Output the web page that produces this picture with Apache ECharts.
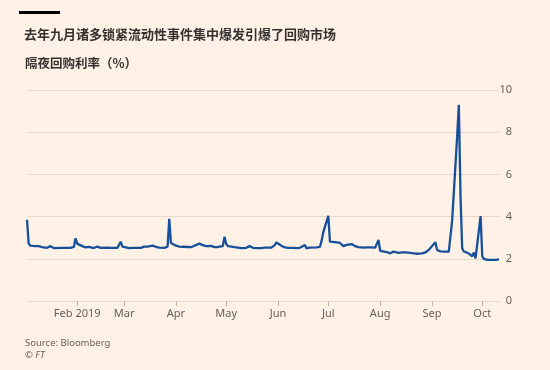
<!DOCTYPE html>
<html>
<head>
<meta charset="utf-8">
<script src="https://cdn.jsdelivr.net/npm/echarts@6/dist/echarts.min.js"></script>
<style>
html, body {margin: 0; padding: 0; background: #fff1e5;}
#chart {width: 550px; height: 370px;}
</style>
</head>
<body>
<div id="chart"></div>
<script>
// 隔夜回购利率 2019
var dates = [
    '2019-01-02','2019-01-03','2019-01-04','2019-01-07','2019-01-08','2019-01-09','2019-01-10','2019-01-11',
    '2019-01-14','2019-01-15','2019-01-16','2019-01-17','2019-01-18','2019-01-22','2019-01-23','2019-01-24',
    '2019-01-25','2019-01-28','2019-01-29','2019-01-30','2019-01-31','2019-02-01','2019-02-04','2019-02-05',
    '2019-02-06','2019-02-07','2019-02-08','2019-02-11','2019-02-12','2019-02-13','2019-02-14','2019-02-15',
    '2019-02-19','2019-02-20','2019-02-21','2019-02-22','2019-02-25','2019-02-26','2019-02-27','2019-02-28',
    '2019-03-01','2019-03-04','2019-03-05','2019-03-06','2019-03-07','2019-03-08','2019-03-11','2019-03-12',
    '2019-03-13','2019-03-14','2019-03-15','2019-03-18','2019-03-19','2019-03-20','2019-03-21','2019-03-22',
    '2019-03-25','2019-03-26','2019-03-27','2019-03-28','2019-03-29','2019-04-01','2019-04-02','2019-04-03',
    '2019-04-04','2019-04-05','2019-04-08','2019-04-09','2019-04-10','2019-04-11','2019-04-12','2019-04-15',
    '2019-04-16','2019-04-17','2019-04-18','2019-04-19','2019-04-22','2019-04-23','2019-04-24','2019-04-25',
    '2019-04-26','2019-04-29','2019-04-30','2019-05-01','2019-05-02','2019-05-03','2019-05-06','2019-05-07',
    '2019-05-08','2019-05-09','2019-05-10','2019-05-13','2019-05-14','2019-05-15','2019-05-16','2019-05-17',
    '2019-05-20','2019-05-21','2019-05-22','2019-05-23','2019-05-24','2019-05-28','2019-05-29','2019-05-30',
    '2019-05-31','2019-06-03','2019-06-04','2019-06-05','2019-06-06','2019-06-07','2019-06-10','2019-06-11',
    '2019-06-12','2019-06-13','2019-06-14','2019-06-17','2019-06-18','2019-06-19','2019-06-20','2019-06-21',
    '2019-06-24','2019-06-25','2019-06-26','2019-06-27','2019-06-28','2019-07-01','2019-07-02','2019-07-03',
    '2019-07-05','2019-07-08','2019-07-09','2019-07-10','2019-07-11','2019-07-12','2019-07-15','2019-07-16',
    '2019-07-17','2019-07-18','2019-07-19','2019-07-22','2019-07-23','2019-07-24','2019-07-25','2019-07-26',
    '2019-07-29','2019-07-30','2019-07-31','2019-08-01','2019-08-02','2019-08-05','2019-08-06','2019-08-07',
    '2019-08-08','2019-08-09','2019-08-12','2019-08-13','2019-08-14','2019-08-15','2019-08-16','2019-08-19',
    '2019-08-20','2019-08-21','2019-08-22','2019-08-23','2019-08-26','2019-08-27','2019-08-28','2019-08-29',
    '2019-08-30','2019-09-03','2019-09-04','2019-09-05','2019-09-06','2019-09-09','2019-09-10','2019-09-11',
    '2019-09-12','2019-09-13','2019-09-16','2019-09-17','2019-09-18','2019-09-19','2019-09-20','2019-09-23',
    '2019-09-24','2019-09-25','2019-09-26','2019-09-27','2019-09-30','2019-10-01','2019-10-02','2019-10-03',
    '2019-10-04','2019-10-07','2019-10-08','2019-10-09','2019-10-10','2019-10-11'
];
var rates = [
    3.85,2.72,2.62,2.60,2.58,2.60,2.57,2.55,
    2.52,2.53,2.60,2.53,2.51,2.52,2.53,2.52,
    2.53,2.52,2.53,2.56,2.97,2.72,2.60,2.55,
    2.54,2.52,2.57,2.51,2.53,2.58,2.53,2.52,
    2.53,2.52,2.52,2.53,2.52,2.53,2.81,2.58,
    2.52,2.51,2.51,2.52,2.51,2.52,2.52,2.53,
    2.58,2.63,2.58,2.62,2.58,2.57,2.56,2.53,
    2.52,2.53,2.58,3.89,2.75,2.62,2.60,2.58,
    2.57,2.57,2.56,2.56,2.55,2.57,2.62,2.72,
    2.78,2.65,2.60,2.60,2.61,2.60,2.55,2.57,
    2.56,2.60,3.05,2.70,2.60,2.56,2.55,2.55,
    2.53,2.52,2.51,2.52,2.55,2.60,2.53,2.52,
    2.51,2.52,2.51,2.52,2.53,2.53,2.58,2.65,
    2.78,2.62,2.56,2.54,2.53,2.52,2.52,2.53,
    2.51,2.51,2.52,2.65,2.50,2.56,2.53,2.53,
    2.54,2.55,2.56,2.85,3.25,4.04,2.81,2.80,
    2.79,2.75,2.72,2.60,2.62,2.66,2.70,2.66,
    2.60,2.56,2.55,2.53,2.53,2.54,2.53,2.54,
    2.53,2.55,2.89,2.38,2.35,2.32,2.30,2.26,
    2.28,2.34,2.28,2.29,2.30,2.32,2.30,2.28,
    2.27,2.26,2.25,2.24,2.26,2.28,2.30,2.32,
    2.42,2.78,2.42,2.36,2.35,2.34,2.35,2.34,
    2.40,3.80,7.80,9.30,5.00,2.50,2.35,2.25,
    2.20,2.12,2.30,2.02,4.03,2.12,2.00,1.97,
    1.95,1.95,1.96,1.95,1.96,1.97
];
var yTicks = [0, 2, 4, 6, 8, 10];
var monthNames = ['Jan','Feb','Mar','Apr','May','Jun','Jul','Aug','Sep','Oct','Nov','Dec'];

var seriesData = [];
for (var i = 0; i < dates.length; i++) {
    seriesData.push([dates[i], rates[i]]);
}

var chart = echarts.init(document.getElementById('chart'));

var option = {
    backgroundColor: '#fff1e5',
    animation: false,
    title: [
        {text: '去年九月诸多锁紧流动性事件集中爆发引爆了回购市场', left: 19, top: 23,
            textStyle: {fontFamily: 'Noto Sans CJK SC', fontSize: 13, fontWeight: 'bold', color: '#33302e'}},
        {text: '隔夜回购利率（%）', left: 20, top: 52,
            textStyle: {fontFamily: 'Noto Sans CJK SC', fontSize: 12.5, fontWeight: 'bold', color: '#33302e'}},
        {text: 'Source: Bloomberg', left: 20, top: 333,
            textStyle: {fontFamily: 'Noto Sans', fontSize: 9.5, fontWeight: 'normal', color: '#66605c'}},
        {text: '© {i|FT}', left: 20, top: 345,
            textStyle: {fontFamily: 'Noto Sans', fontSize: 9.5, fontWeight: 'normal', color: '#66605c',
                rich: {i: {fontFamily: 'Noto Sans', fontSize: 9.5, fontStyle: 'italic', color: '#66605c'}}}}
    ],
    graphic: [
        {type: 'rect', left: 19, top: 11, shape: {width: 41, height: 3}, style: {fill: '#000000'}}
    ],
    grid: {left: 27, right: 51, top: 90, bottom: 69},
    xAxis: {
        type: 'time',
        min: dates[0], max: dates[dates.length - 1],
        splitNumber: 9,
        axisLine: {show: true, lineStyle: {color: '#e6d9ce', width: 1}},
        axisTick: {show: true, length: 5, lineStyle: {color: '#bfb3a8'}},
        splitLine: {show: false},
        axisLabel: {
            color: '#66605c', fontFamily: 'Noto Sans', fontSize: 11, margin: 7,
            formatter: function (v) {
                var d = new Date(v);
                var m = d.getMonth();
                return m == 1 ? 'Feb ' + d.getFullYear() : monthNames[m];
            }
        }
    },
    yAxis: {
        type: 'value', position: 'right',
        min: yTicks[0], max: yTicks[yTicks.length - 1], interval: 2,
        axisLine: {show: false}, axisTick: {show: false},
        splitLine: {lineStyle: {color: '#e6d9ce', width: 1}},
        axisLabel: {color: '#66605c', fontFamily: 'Noto Sans', fontSize: 11, align: 'right', margin: 13}
    },
    series: [{
        type: 'line', data: seriesData, showSymbol: false,
        lineStyle: {color: '#17509a', width: 2.3}
    }]
};

chart.setOption(option);
</script>
</body>
</html>
